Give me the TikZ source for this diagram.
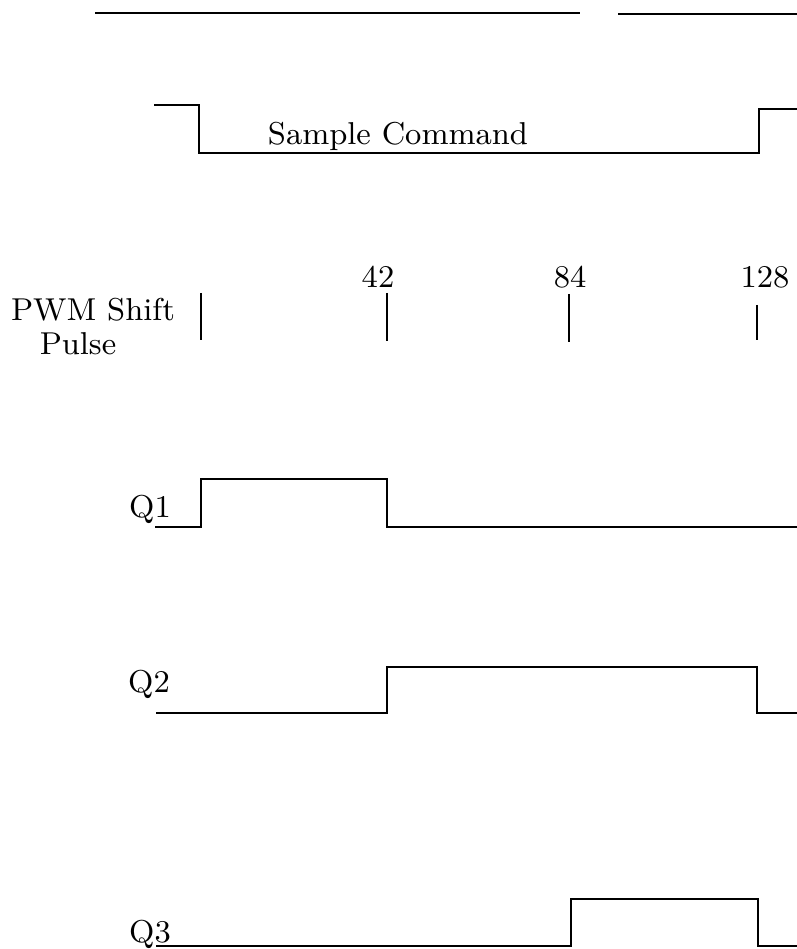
\documentclass[tikz,border=0pt]{standalone}
\usepackage{tikz}
\usetikzlibrary{positioning}

\begin{document}
\begin{tikzpicture}[x=0.1mm,y=0.1mm,
    wave/.style={line width=0.7pt,line join=miter},
    pulsemark/.style={line width=0.6pt},
    lbl/.style={font=\small,inner sep=0pt,anchor=base}]
  \useasboundingbox (0,0) rectangle (797,949);
  % Top line
  \draw[wave] (95,936) -- (580,936);
  \draw[wave] (618,935) -- (797,935);
  % Sample command
  \draw[wave] (154,844) -- (199,844) -- (199,796) -- (759,796) -- (759,840) -- (797,840);
  \node[lbl] (cmd) at (398,804) {Sample Command};
  % PWM shift pulses
  \node[lbl] (pwm) at (93,628) {PWM Shift};
  \node[lbl] (pulse) at (78,594) {Pulse};
  \draw[pulsemark] (201,656) -- (201,609);
  \draw[pulsemark] (387,656) -- (387,608);
  \draw[pulsemark] (569,655) -- (569,607);
  \draw[pulsemark] (757,644) -- (757,609);
  \node[lbl] (n42) at (378,661) {42};
  \node[lbl] (n84) at (570,661) {84};
  \node[lbl] (n128) at (765,661) {128};
  % Q1
  \node[lbl] (q1) at (150,431) {Q1};
  \draw[wave] (155,422) -- (201,422) -- (201,470) -- (387,470) -- (387,422) -- (797,422);
  % Q2
  \node[lbl] (q2) at (149,256) {Q2};
  \draw[wave] (156,236) -- (387,236) -- (387,282) -- (757,282) -- (757,236) -- (797,236);
  % Q3
  \node[lbl] (q3) at (150,6) {Q3};
  \draw[wave] (156,3) -- (571,3) -- (571,50) -- (758,50) -- (758,3) -- (797,3);
\end{tikzpicture}
\end{document}
